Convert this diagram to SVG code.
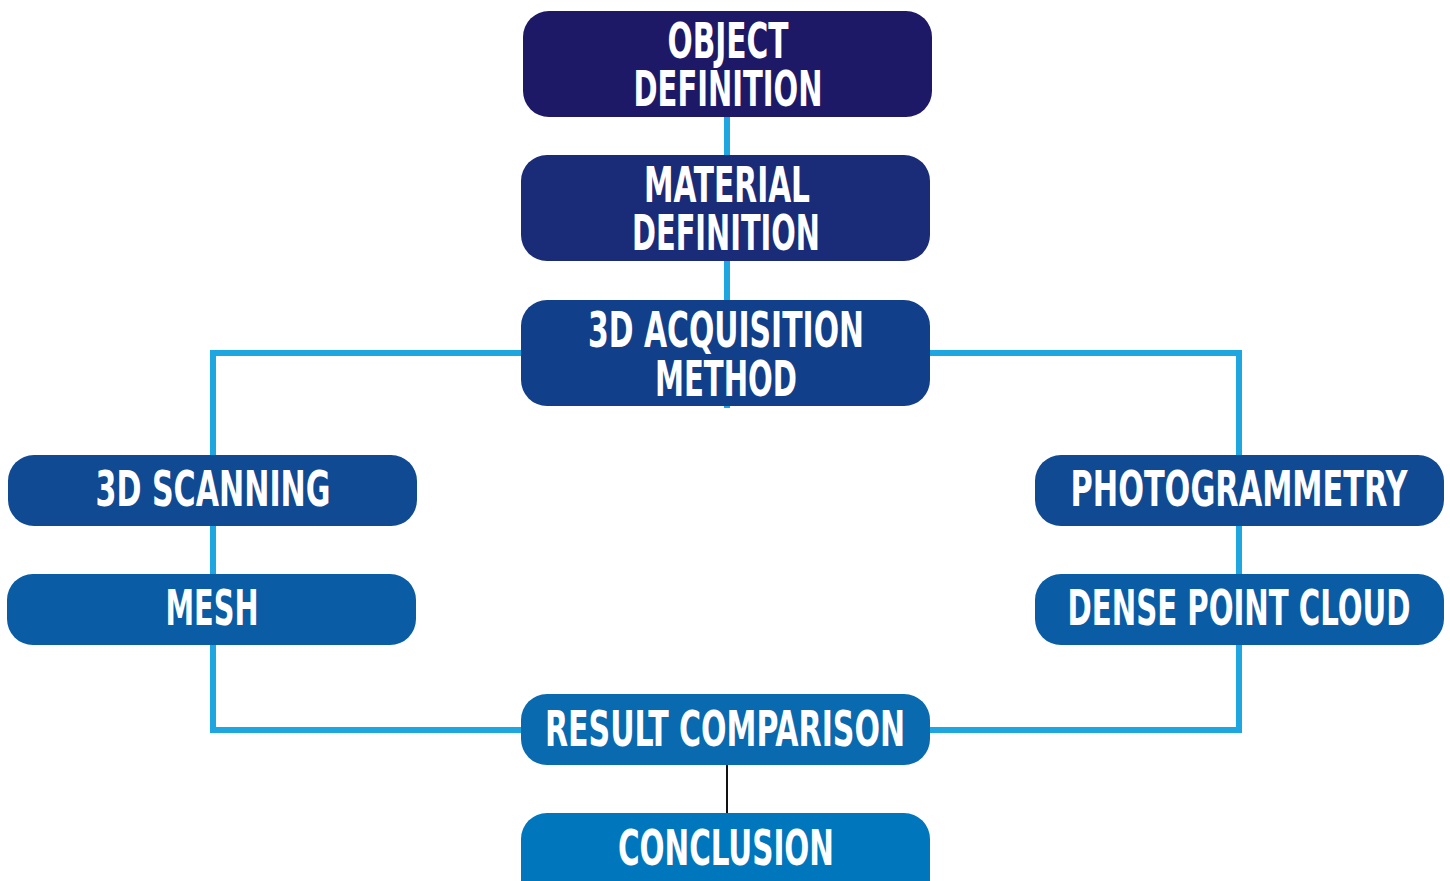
<svg xmlns="http://www.w3.org/2000/svg" width="1450" height="881" viewBox="0 0 1450 881">
<style>
.box{stroke:none}
.lbl{font-family:"DejaVu Sans Condensed","DejaVu Sans","Liberation Sans",sans-serif;font-weight:bold;font-size:50px;fill:#ffffff;text-anchor:middle}
.conn{fill:none;stroke:#1ea6e0;stroke-width:6}
.blk{fill:none;stroke:#111111;stroke-width:2}
</style>
<rect width="1450" height="881" fill="#ffffff"/>
<g id="connectors">
<line class="conn" x1="727" y1="115" x2="727" y2="157"/>
<line class="conn" x1="727" y1="259" x2="727" y2="302"/>
<polyline class="conn" points="523,353 213,353 213,730 523,730"/>
<polyline class="conn" points="928,353 1239,353 1239,730 928,730"/>
<line class="conn" x1="727" y1="404" x2="727" y2="408"/>
<line class="blk" x1="727" y1="765" x2="727" y2="814"/>
</g>
<g id="object-definition">
<rect class="box" x="523" y="11" width="409" height="106" rx="26" fill="#1d1967"/>
<text class="lbl" x="728" y="58" textLength="121" lengthAdjust="spacingAndGlyphs">OBJECT</text>
<text class="lbl" x="728" y="106" textLength="189" lengthAdjust="spacingAndGlyphs">DEFINITION</text>
</g>
<g id="material-definition">
<rect class="box" x="521" y="155" width="409" height="106" rx="26" fill="#1a2b78"/>
<text class="lbl" x="727" y="202" textLength="166" lengthAdjust="spacingAndGlyphs">MATERIAL</text>
<text class="lbl" x="726" y="250" textLength="188" lengthAdjust="spacingAndGlyphs">DEFINITION</text>
</g>
<g id="acquisition-method">
<rect class="box" x="521" y="300" width="409" height="106" rx="26" fill="#123f8a"/>
<text class="lbl" x="726" y="347" textLength="276" lengthAdjust="spacingAndGlyphs">3D ACQUISITION</text>
<text class="lbl" x="726" y="396" textLength="142" lengthAdjust="spacingAndGlyphs">METHOD</text>
</g>
<g id="scanning">
<rect class="box" x="8" y="455" width="409" height="71" rx="26" fill="#0f4a93"/>
<text class="lbl" x="213" y="506" textLength="235" lengthAdjust="spacingAndGlyphs">3D SCANNING</text>
</g>
<g id="mesh">
<rect class="box" x="7" y="574" width="409" height="71" rx="26" fill="#0a5ca5"/>
<text class="lbl" x="212" y="625" textLength="93" lengthAdjust="spacingAndGlyphs">MESH</text>
</g>
<g id="photogrammetry">
<rect class="box" x="1035" y="455" width="409" height="71" rx="26" fill="#0f4a93"/>
<text class="lbl" x="1239" y="506" textLength="337" lengthAdjust="spacingAndGlyphs">PHOTOGRAMMETRY</text>
</g>
<g id="dense-point-cloud">
<rect class="box" x="1035" y="574" width="409" height="71" rx="26" fill="#0a5ca5"/>
<text class="lbl" x="1239" y="625" textLength="343" lengthAdjust="spacingAndGlyphs">DENSE POINT CLOUD</text>
</g>
<g id="result-comparison">
<rect class="box" x="521" y="694" width="409" height="71" rx="26" fill="#096aaf"/>
<text class="lbl" x="725" y="746" textLength="360" lengthAdjust="spacingAndGlyphs">RESULT COMPARISON</text>
</g>
<g id="conclusion">
<rect class="box" x="521" y="813" width="409" height="95" rx="26" fill="#0077bd"/>
<text class="lbl" x="726" y="865" textLength="216" lengthAdjust="spacingAndGlyphs">CONCLUSION</text>
</g>
</svg>
